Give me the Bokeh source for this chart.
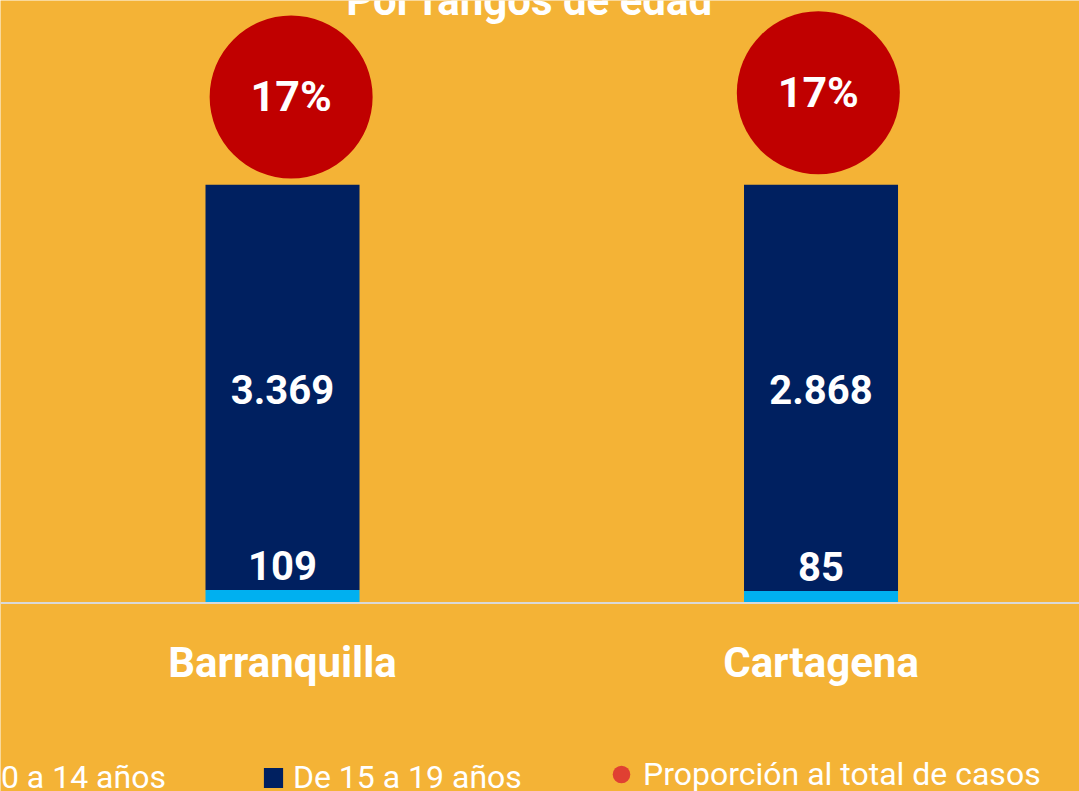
from bokeh.plotting import figure
from bokeh.models import ColumnDataSource, Legend, LegendItem, Span, Range1d
from bokeh.core.properties import value
from bokeh.embed import file_html
from bokeh.resources import INLINE

# ---------------- data ----------------
cities = ["Barranquilla", "Cartagena"]
age_0_14 = [109, 85]
age_15_19 = [3369, 2868]
share_of_total = [17, 17]          # % of all cases
series_labels = ["De 0 a 14 años", "De 15 a 19 años"]
share_label = "Proporción al total de casos"
title_text = "Por rangos de edad"

# ---------------- style / layout ----------------
BG = "#F4B336"
NAVY = "#002060"
LBLUE = "#00B0F0"
RED = "#C00000"
DOT = "#E04032"
FONT = value("Roboto")

W, H = 1079, 791
BAR_W = 0.286
CIRCLE_DX = [0.016, -0.005]   # small horizontal nudges of the circles
CIRCLE_Y = [121.0, 122.0]     # circle centres, in % of bar height
CAT_LABEL_Y = -14.3
TITLE_X, TITLE_Y = 0.458, 144.0

x = list(range(len(cities)))
totals = [a + b for a, b in zip(age_0_14, age_15_19)]
p0 = [a / t * 100 for a, t in zip(age_0_14, totals)]
p1 = [b / t * 100 for b, t in zip(age_15_19, totals)]


def fmt(v):
    return f"{v:,}".replace(",", ".")


src = ColumnDataSource(dict(
    x=x, city=cities, p0=p0, p1=p1,
    mid1=[a + b / 2 for a, b in zip(p0, p1)],
    lab0=[fmt(v) for v in age_0_14],
    lab1=[fmt(v) for v in age_15_19],
    cx=[xi + d for xi, d in zip(x, CIRCLE_DX)],
    cy=CIRCLE_Y,
    share=[f"{s}%" for s in share_of_total],
    laby=[CAT_LABEL_Y] * len(cities),
))

p = figure(width=W, height=H, output_backend="svg", toolbar_location=None,
           x_range=Range1d(-0.5237, 1.4800), y_range=Range1d(-45.07, 144.07),
           x_axis_location=None, y_axis_location=None, min_border=0,
           background_fill_color=BG, border_fill_color=BG, outline_line_color=None)
p.grid.visible = False

# baseline
p.add_layout(Span(location=0, dimension="width", line_color="#D9D9D9", line_width=2))

# stacked 100% bars
bars = p.vbar_stack(["p0", "p1"], x="x", width=BAR_W, color=[LBLUE, NAVY],
                    line_color=None, source=src)

# bar value labels
p.text(x="x", y="mid1", text="lab1", source=src, text_font=FONT, text_font_style="bold",
       text_font_size="40px", text_color="white", text_align="center",
       text_baseline="alphabetic", y_offset=2)
p.text(x="x", y="p0", text="lab0", source=src, text_font=FONT, text_font_style="bold",
       text_font_size="40px", text_color="white", text_align="center",
       text_baseline="alphabetic", y_offset=-24)

# proportion circles
circ = p.scatter(x="cx", y="cy", size=163, color=RED, line_color=None, source=src)
p.text(x="cx", y="cy", text="share", source=src, text_font=FONT, text_font_style="bold",
       text_font_size="43px", text_color="white", text_align="center",
       text_baseline="alphabetic", y_offset=-1)

# category labels
p.text(x="x", y="laby", text="city", source=src, text_font=FONT, text_font_style="bold",
       text_font_size="42px", text_color="white", text_align="center",
       text_baseline="alphabetic")

# title (partly above the visible area, as in the reference)
p.text(x=[TITLE_X], y=[TITLE_Y], text=[title_text], text_font=FONT, text_font_style="bold",
       text_font_size="42px", text_color="white", text_align="center",
       text_baseline="alphabetic")

# legend marker for the proportion (size 0 in the plot, drawn only in the legend)
dot = p.scatter(x="cx", y="cy", size=0, color=DOT, line_color=None, source=src)

common = dict(orientation="horizontal", padding=0, margin=0,
              background_fill_alpha=0, border_line_color=None,
              label_text_color="white", label_text_font="Roboto",
              label_text_font_size="32px")

leg1 = Legend(items=[LegendItem(label=series_labels[0], renderers=[bars[0]]),
                     LegendItem(label=series_labels[1], renderers=[bars[1]])],
              location=(-77, -5), glyph_width=24, glyph_height=25,
              label_standoff=8, spacing=95, **common)
leg2 = Legend(items=[LegendItem(label=share_label, renderers=[dot])],
              location=(599, -5), glyph_width=44, glyph_height=44,
              label_standoff=0, spacing=0, **common)
p.add_layout(leg1)
p.add_layout(leg2)

html = file_html(p, INLINE, title="Por rangos de edad")
html = html.replace("<body>", f'<body style="background-color:{BG};">', 1)
open("out.html", "w").write(html)
